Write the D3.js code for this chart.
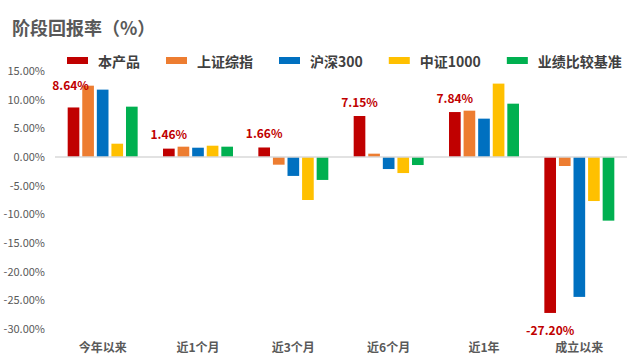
<!DOCTYPE html>
<html><head><meta charset="utf-8">
<script src="https://cdn.jsdelivr.net/npm/d3@7"></script>
<style>
html,body{margin:0;padding:0;background:#fff;}
svg{display:block;font-family:"Noto Sans CJK SC","Noto Sans",sans-serif;}
</style></head>
<body><svg id="c" width="641" height="361"></svg>
<script>
const title = "阶段回报率（%）";
const categories = ["今年以来","近1个月","近3个月","近6个月","近1年","成立以来"];
const seriesNames = ["本产品","上证综指","沪深300","中证1000","业绩比较基准"];
const seriesColors = ["#C00000","#ED7D31","#0070C0","#FFC000","#00B050"];
const product   = [8.64, 1.46, 1.66, 7.15, 7.84, -27.20];
const sse       = [12.44, 1.80, -1.34, 0.58, 8.08, -1.57];
const csi300    = [11.75, 1.62, -3.30, -2.10, 6.69, -24.40];
const csi1000   = [2.32, 1.97, -7.50, -2.80, 12.80, -7.68];
const benchmark = [8.78, 1.80, -4.00, -1.40, 9.30, -11.10];
const yTicks = [-30,-25,-20,-15,-10,-5,0,5,10,15];
const seriesValues = [product, sse, csi300, csi1000, benchmark];

const pct = d3.formatLocale({decimal:".",thousands:",",grouping:[3],currency:["",""],minus:"-"}).format(".2f");
const fmt = v => pct(v) + "%";

const svg = d3.select("#c");
const x0 = d3.scaleBand().domain(categories).range([55,627]).paddingInner(0.266).paddingOuter(0.133);
const x1 = d3.scaleBand().domain(seriesNames).range([0, x0.bandwidth()]).paddingInner(0.2);
const y = d3.scaleLinear().domain([-30,15]).range([329,71]);

// title
svg.append("text").attr("x",12).attr("y",27).attr("dominant-baseline","central")
  .attr("font-size",18).attr("font-weight","bold").attr("fill","#595959").text(title);

// legend
let lx = 67;
const lg = svg.append("g");
seriesNames.forEach((n,i)=>{
  lg.append("rect").attr("x",lx).attr("y",57).attr("width",21).attr("height",7).attr("fill",seriesColors[i]);
  const t = lg.append("text").attr("x",lx+31).attr("y",61).attr("dominant-baseline","central")
    .attr("font-size",14).attr("font-weight","bold").attr("fill","#404040").text(n);
  lx += 31 + t.node().getComputedTextLength() + 26;
});

// y axis
const ya = svg.append("g").attr("transform","translate(55,0)")
  .call(d3.axisLeft(y).tickValues(yTicks).tickSize(0).tickPadding(10).tickFormat(fmt));
ya.select(".domain").remove();
ya.selectAll("text").attr("font-size",11).attr("fill","#595959").attr("font-family","'Noto Sans CJK SC','Noto Sans',sans-serif");

// bars
const groups = svg.append("g").selectAll("g").data(categories).join("g")
  .attr("transform",d=>`translate(${x0(d)},0)`);
groups.selectAll("rect").data((c,ci)=>seriesNames.map((s,si)=>({s,si,v:seriesValues[si][ci]})))
  .join("rect")
  .attr("x",d=>x1(d.s)).attr("width",x1.bandwidth())
  .attr("y",d=>y(Math.max(0,d.v))).attr("height",d=>Math.abs(y(d.v)-y(0)))
  .attr("fill",d=>seriesColors[d.si]);

// zero line
svg.append("line").attr("x1",55).attr("x2",627).attr("y1",y(0)).attr("y2",y(0))
  .attr("stroke","#D9D9D9").attr("stroke-width",1.3);

// category labels
const xa = svg.append("g").attr("transform","translate(0,335)")
  .call(d3.axisBottom(x0).tickSize(0).tickPadding(8));
xa.select(".domain").remove();
xa.selectAll("text").attr("font-size",12).attr("font-weight","bold").attr("fill","#595959")
  .attr("font-family","'Noto Sans CJK SC','Noto Sans',sans-serif");

// data labels for product
categories.forEach((c,ci)=>{
  const v = product[ci];
  let cx = x0(c) + x1(seriesNames[0]) + x1.bandwidth()/2;
  let cy = v >= 0 ? y(v) - 15 : y(v) + 17;
  const t = svg.append("text").attr("text-anchor","middle").attr("dominant-baseline","central")
    .attr("font-size",12).attr("font-weight","bold").attr("fill","#C00000")
    .text(fmt(v));
  const w = t.node().getComputedTextLength();
  if (v >= 0) {
    const nx = x0(c) + x1(seriesNames[1]);
    const nTop = y(Math.max(0, sse[ci]));
    if (cx + w/2 > nx && cy + 6 > nTop) { cy = nTop - 1; cx -= 3; }
  }
  t.attr("x",cx).attr("y",cy);
});
</script></body></html>
